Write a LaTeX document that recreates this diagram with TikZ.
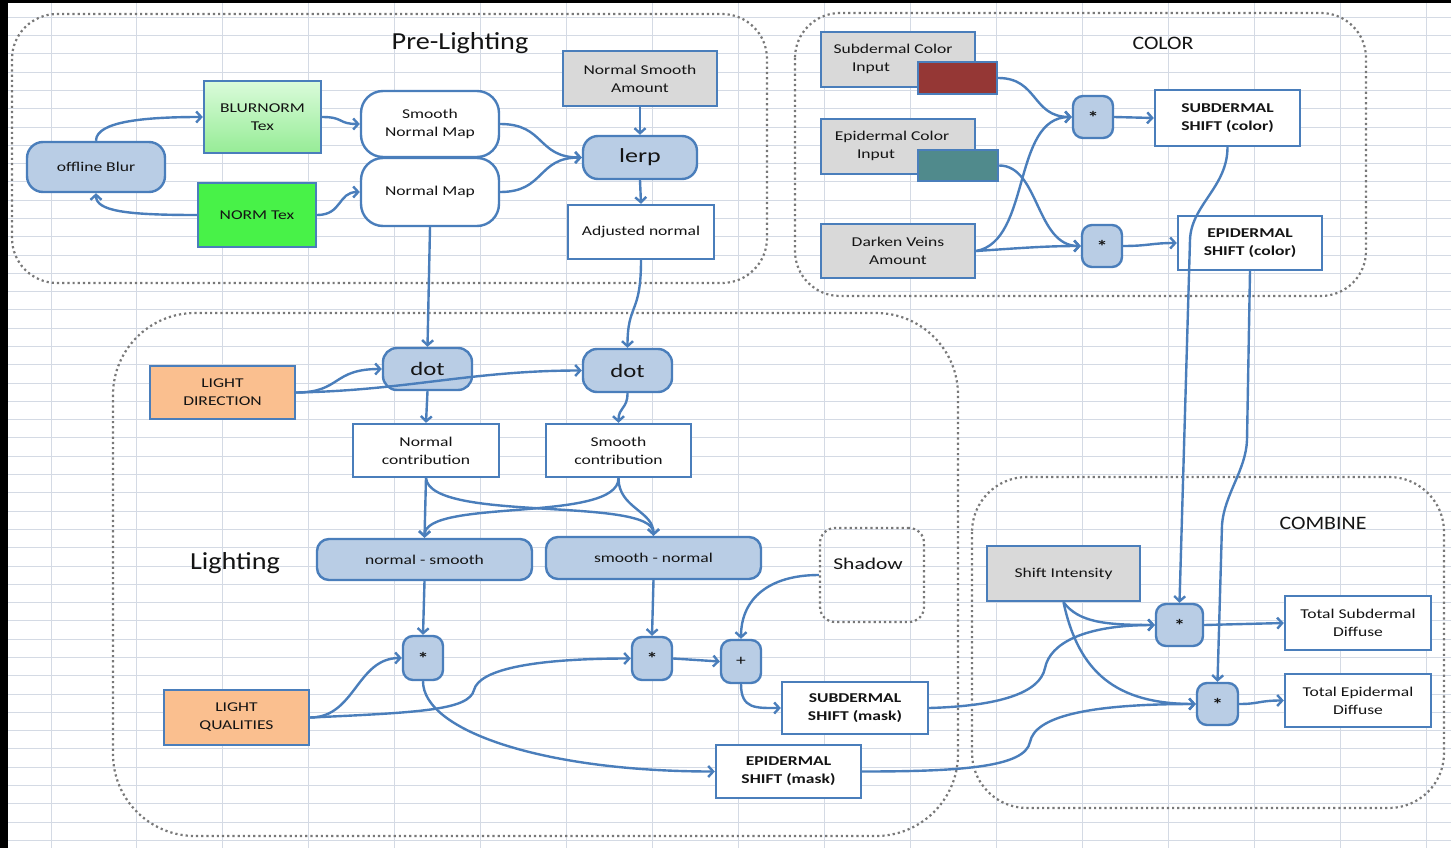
\documentclass[tikz,border=0pt]{standalone}
\usepackage{fontspec}
\setmainfont{Carlito}[FakeStretch=1.3]
\newfontfamily\ttlfont{Carlito}[FakeStretch=1.15]
\usetikzlibrary{arrows.meta,calc}
\definecolor{edge}{RGB}{74,126,187}
\definecolor{bfill}{RGB}{185,205,229}
\definecolor{gfill}{RGB}{217,217,217}
\definecolor{ofill}{RGB}{250,191,143}
\definecolor{greenA}{RGB}{72,242,72}
\definecolor{mintA}{RGB}{218,251,218}
\definecolor{mintB}{RGB}{150,236,150}
\definecolor{swred}{RGB}{149,55,53}
\definecolor{swteal}{RGB}{80,138,140}
\definecolor{gridc}{RGB}{212,218,228}
\definecolor{dotc}{RGB}{120,120,120}
\definecolor{txt}{RGB}{20,20,20}
\begin{document}
\begin{tikzpicture}[x=1pt,y=-1pt,
  every node/.style={text=txt, font=\fontsize{13.5}{18}\selectfont},
  base/.style={draw=edge, line width=2.4pt, inner sep=0pt, align=center},
  sz/.style 2 args={minimum width=#1, minimum height=#2},
  sq/.style={base, rectangle, fill=white},
  grayb/.style={base, fill=gfill},
  rbl/.style={base, fill=bfill},
  opbox/.style={base, fill=bfill, rounded corners=10pt, font=\fontsize{17}{18}\selectfont\bfseries},
  bld/.style={font=\fontsize{13.5}{18}\selectfont\bfseries},
  dotf/.style={font=\fontsize{19}{22}\selectfont},
  ttl/.style={font=\ttlfont\fontsize{24.5}{28}\selectfont},
  ttlsm/.style={font=\ttlfont\fontsize{19}{22}\selectfont},
  grp/.style={draw=dotc, line width=2.2pt, dash pattern=on 2.2pt off 3pt},
  arr/.style={draw=edge, line width=2.4pt, -{Straight Barb[length=5pt,width=11pt]}}
]
\useasboundingbox (0,0) rectangle (1451,848);
\fill[white] (0,0) rectangle (1451,848);
% spreadsheet grid
\foreach \i in {0,...,16} \draw[gridc, line width=1pt] ({51+85.94*\i},0) -- ++(0,848);
\foreach \i in {0,...,45} \draw[gridc, line width=1pt] (0,{17.3+18.29*\i}) -- ++(1451,0);
\fill[black] (0,0) rectangle (8,848);
\fill[black] (0,0) rectangle (1451,3);

% groups
\draw[grp, rounded corners=45pt] (12,14) rectangle (767,283);
\draw[grp, rounded corners=45pt] (795,13) rectangle (1366,296);
\draw[grp, rounded corners=82pt] (113,313) rectangle (958,836);
\draw[grp, rounded corners=55pt] (972,477) rectangle (1444,808);

% titles
\node[ttl] (tpre) at (460,43) {Pre-Lighting};
\node[ttlsm] (tcol) at (1163,43) {COLOR};
\node[ttl] (tlig) at (235,563) {Lighting};
\node[ttlsm] (tcom) at (1323,523) {COMBINE};

% Pre-Lighting
\node[rbl, sz={138}{50}, rounded corners=16pt] (blur) at (96,167) {offline Blur};
\node[base, sz={117}{72}, top color=mintA, bottom color=mintB] (bn) at (262.5,117) {BLURNORM\\Tex};
\node[base, fill=greenA, sz={118}{64}] (nt) at (257,215) {NORM Tex};
\node[base, fill=white, rounded corners=22pt, sz={138}{66}] (snm) at (430,124) {Smooth\\Normal Map};
\node[base, fill=white, rounded corners=22pt, sz={138}{68}] (nm) at (430,192) {Normal Map};
\node[grayb, sz={154}{55}] (nsa) at (640,78.5) {Normal Smooth\\Amount};
\node[rbl, font=\fontsize{20}{24}\selectfont, sz={114}{43}, rounded corners=15pt] (lerp) at (640,157.5) {lerp};
\node[sq, sz={146}{54}] (adj) at (641,232) {Adjusted normal};

% COLOR
\node[grayb, sz={154}{55}] (sci) at (898,59.5) {};
\node (scit1) at (893,49) {Subdermal Color};
\node (scit2) at (871,68) {Input};
\node[base, fill=swred, sz={79}{32}] (red) at (957.5,78) {};
\node[grayb, sz={154}{55}] (eci) at (898,146.5) {};
\node (ecit1) at (892,137) {Epidermal Color};
\node (ecit2) at (876,155) {Input};
\node[base, fill=swteal, sz={80}{31}] (teal) at (958,165.5) {};
\node[grayb, sz={154}{54}] (dv) at (898,251) {Darken Veins\\Amount};
\node[opbox, sz={40}{42}] (ms) at (1093,117) {*};
\node[sq, bld, sz={145}{56}] (ssc) at (1227.5,118) {SUBDERMAL\\SHIFT (color)};
\node[opbox, sz={40}{42}] (me) at (1102,246) {*};
\node[sq, bld, sz={144}{54}] (esc) at (1250,243) {EPIDERMAL\\SHIFT (color)};

% Lighting
\node[base, fill=ofill, sz={145}{53}] (ld) at (222.5,392.5) {LIGHT\\DIRECTION};
\node[rbl, dotf, sz={89}{42}, rounded corners=14pt] (dot1) at (427.5,369) {dot};
\node[rbl, dotf, sz={89}{43}, rounded corners=14pt] (dot2) at (627.5,370.5) {dot};
\node[sq, sz={146}{53}] (nc) at (426,450.5) {Normal\\contribution};
\node[sq, sz={145}{53}] (sc) at (618.5,450.5) {Smooth\\contribution};
\node[rbl, sz={215}{41}, rounded corners=12pt] (ns) at (424.5,559.5) {normal - smooth};
\node[rbl, sz={215}{42}, rounded corners=12pt] (sn) at (653.5,558) {smooth - normal};
\node[opbox, sz={40}{44}] (sa) at (423,658) {*};
\node[opbox, sz={40}{43}] (sb) at (652,658.5) {*};
\node[opbox, font=\fontsize{15}{18}\selectfont, sz={40}{43}] (plus) at (741,661.5) {+};
\node[base, fill=ofill, sz={145}{55}] (lq) at (236.5,717.5) {LIGHT\\QUALITIES};
\node[sq, bld, sz={146}{52}] (sm) at (855,708) {SUBDERMAL\\SHIFT (mask)};
\node[sq, bld, sz={145}{53}] (em) at (788.5,771.5) {EPIDERMAL\\SHIFT (mask)};
\node[grp, rounded corners=15pt, sz={104}{94}] (shadow) at (872,575) {};
\node[font=\fontsize{16.5}{20}\selectfont] (shadowt) at (868,564) {Shadow};

% COMBINE
\node[grayb, sz={153}{55}] (si) at (1063.5,573.5) {Shift Intensity};
\node[opbox, sz={47}{42}] (c1) at (1179.5,625) {*};
\node[opbox, sz={41}{42}] (c2) at (1217.5,704) {*};
\node[sq, sz={146}{54}] (tsd) at (1358,623) {Total Subdermal\\Diffuse};
\node[sq, sz={146}{53}] (ted) at (1358,700.5) {Total Epidermal\\Diffuse};

% ---- connectors: Pre-Lighting
\draw[arr] (blur.north) .. controls +(0,-20) and +(-55,0) .. (bn.west);
\draw[arr] (nt.west) .. controls +(-70,0) and +(0,18) .. (blur.south);
\draw[arr] (bn.east) .. controls +(22,0) and +(-22,0) .. (snm.west);
\draw[arr] (nt.east) .. controls +(25,0) and +(-22,0) .. (nm.west);
\draw[arr] (snm.east) .. controls +(45,0) and +(-45,0) .. (lerp.west);
\draw[arr] (nm.east) .. controls +(45,0) and +(-45,0) .. (lerp.west);
\draw[arr] (nsa.south) -- (lerp.north);
\draw[arr] (lerp.south) -- (adj.north);
\draw[arr] (nm.south) -- (dot1.north);
\draw[arr] (adj.south) .. controls +(0,55) and +(0,-45) .. (dot2.north);

% ---- COLOR
\draw[arr] (red.east) .. controls +(40,0) and +(-40,0) .. (ms.west);
\draw[arr] (teal.east) .. controls +(40,0) and +(-45,0) .. (me.west);
\draw[arr] (dv.east) .. controls +(55,-10) and +(-60,0) .. (ms.west);
\draw[arr] (dv.east) .. controls +(45,-3) and +(-35,0) .. (me.west);
\draw[arr] (ms.east) -- (ssc.west);
\draw[arr] (me.east) .. controls +(25,0) and +(-25,0) .. (esc.west);

% ---- Lighting
\draw[arr] (ld.east) .. controls +(45,0) and +(-50,0) .. (dot1.west);
\draw[arr] (ld.east) .. controls +(110,-2) and +(-110,0) .. (dot2.west);
\draw[arr] (dot1.south) -- (nc.north);
\draw[arr] (dot2.south) .. controls +(0,16) and +(0,-16) .. (sc.north);
\draw[arr] (nc.south) -- (ns.north);
\draw[arr] (nc.south) .. controls +(5,45) and +(0,-40) .. (sn.north);
\draw[arr] (sc.south) .. controls +(0,45) and +(0,-40) .. (ns.north);
\draw[arr] (sc.south) .. controls +(0,30) and +(0,-25) .. (sn.north);
\draw[arr] (ns.south) -- (sa.north);
\draw[arr] (sn.south) -- (sb.north);
\draw[arr] (lq.east) .. controls +(45,0) and +(-45,0) .. (sa.west);
\draw[arr] (lq.east) .. controls +(110,-5) and +(-5,20) .. (474,690) .. controls +(5,-20) and +(-100,0) .. (sb.west);
\draw[arr] (sa.south) .. controls +(0,50) and +(-170,0) .. (em.west);
\draw[arr] (sb.east) -- (plus.west);
\draw[arr] (shadow.west) .. controls +(-50,0) and +(0,-40) .. (plus.north);
\draw[arr] (plus.south) .. controls +(0,25) and +(-25,0) .. (sm.west);

% ---- COMBINE
\draw[arr] (sm.east) .. controls +(70,-2) and +(-5,25) .. (1045,668) .. controls +(5,-25) and +(-70,0) .. (c1.west);
\draw[arr] (em.east) .. controls +(100,0) and +(-5,25) .. (1030,742) .. controls +(5,-25) and +(-110,0) .. (c2.west);
\draw[arr] (si.south) .. controls +(15,20) and +(-50,0) .. (c1.west);
\draw[arr] (si.south) .. controls +(15,70) and +(-80,0) .. (c2.west);
\draw[arr] (c1.east) -- (tsd.west);
\draw[arr] (c2.east) .. controls +(20,0) and +(-25,0) .. (ted.west);
\draw[arr] (ssc.south) .. controls +(0,40) and +(1,-35) .. (1190,240) -- (c1.north);
\draw[arr] (esc.south) -- (1247,440) .. controls +(-1,30) and +(2,-30) .. (1222,525) -- (c2.north);
\end{tikzpicture}
\end{document}
